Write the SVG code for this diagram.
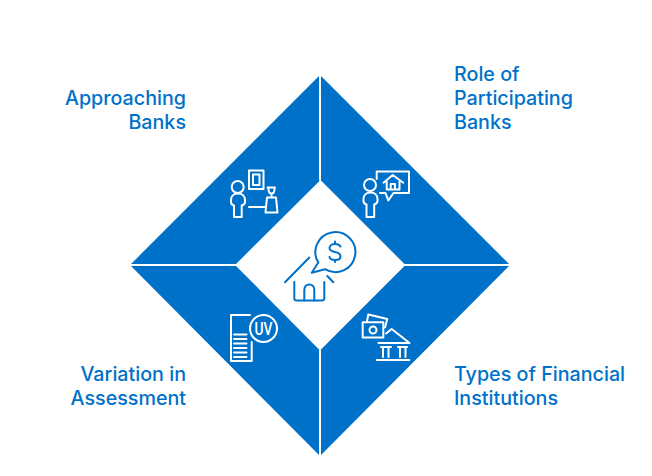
<svg xmlns="http://www.w3.org/2000/svg" width="652" height="476" viewBox="0 0 652 476">
<style>
.seg{fill:#0071c9}
.lbl{font-family:Inter,"Liberation Sans",sans-serif;font-size:19.7px;font-weight:500;fill:#0071c9}
.ic{fill:none;stroke:#fff;stroke-width:2;stroke-linejoin:round;stroke-linecap:round}
.ib{fill:none;stroke:#0071c9;stroke-width:2;stroke-linejoin:round;stroke-linecap:round}
.e{text-anchor:end}
</style>
<rect width="652" height="476" fill="#fff"/>
<g id="connectors">
<path class="seg" d="M319 76V180.500H320L236 264H131Z"/>
<path class="seg" d="M321 76L509 264H404.500L321 180.500Z"/>
<path class="seg" d="M131 266H236L319 349.500V455Z"/>
<path class="seg" d="M404.500 266H509L321 455V349.500Z"/>
</g>
<g id="center">
<path class="ib" d="M318.300 262.500A20 20 0 1 1 325 269.200L311.800 272.700Z"/>
<path class="ib" d="M340.500 246.500C339.500 244.500 337.500 244 335 244C332 244 329.500 245.500 329.500 248C329.500 250.500 332.500 251.500 335 252C338 252.500 340.500 254 340.500 256.500C340.500 259 338 260 335 260C332 260 330 259 329.500 257M335 241.500V244M335 260V262"/>
<path class="ib" d="M285 282.300L309.300 257.500M327.300 276L333.300 282.300"/>
<path class="ib" d="M294.300 282V298C294.300 299.500 295 300.500 296.500 300.500H322C323.500 300.500 324.300 299.500 324.300 298V282"/>
<path class="ib" d="M304.300 300.500V290C304.300 282.500 314.300 282.500 314.300 290V300.500"/>
</g>
<g id="approaching-banks">
<text class="lbl e" x="186" y="105">Approaching</text>
<text class="lbl e" x="186" y="129">Banks</text>
<circle class="ic" cx="237.700" cy="187" r="6"/>
<path class="ic" d="M234 217V205.500C232 205 231 204 231 202V200C231 196 234 193.500 238 193.500C242 193.500 245 196 245 200V202C245 204 243.500 205 241.700 205.500V217Z"/>
<path class="ic" d="M249 207H265"/>
<rect class="ic" x="249" y="170.500" width="14.500" height="18.500"/>
<rect class="ic" x="253" y="174.500" width="6.500" height="10.500"/>
<path class="ic" d="M265.500 212.500L267 197.500H276L277.500 212.500Z"/>
<path class="ic" d="M267.500 187.500H275M268.500 189C268.500 192 270 193.500 271.500 193.500C273 193.500 274.500 192 274.500 189M271.500 194V197"/>
</g>
<g id="role-of-participating-banks">
<text class="lbl" x="454" y="81">Role of</text>
<text class="lbl" x="454" y="105">Participating</text>
<text class="lbl" x="454" y="129">Banks</text>
<circle class="ic" cx="370" cy="185" r="6"/>
<path class="ic" d="M366.500 217V204.500C364.500 204 363.500 203 363.500 201V199C363.500 195 366.500 192.500 370.500 192.500C374.500 192.500 377.500 195 377.500 199V201C377.500 203 376 204 374.200 204.500V217Z"/>
<path class="ic" d="M376.700 179V171.500H409V193H393.500L388.300 200.500L385.500 193H380"/>
<path class="ic" d="M383.500 182.700L392.700 175L403.300 182.700M386.700 181V189.500H399.500V181M390.700 189.500V184H395V189.500"/>
</g>
<g id="variation-in-assessment">
<text class="lbl e" x="186" y="381">Variation in</text>
<text class="lbl e" x="186" y="405">Assessment</text>
<path class="ic" d="M251.700 342V361H231V315H250"/>
<circle class="ic" cx="263.500" cy="328.500" r="13.500"/>
<path class="ic" d="M234 334.500H246.500M234 339H246.500M234 343.500H246.500M234 348H246.500M234 352.500H246.500M234 357H246.500"/>
<text x="263.500" y="335" text-anchor="middle" textLength="18" lengthAdjust="spacingAndGlyphs" font-family="Roboto,'Liberation Sans',sans-serif" font-size="18" font-weight="500" fill="#fff">UV</text>
</g>
<g id="types-of-financial-institutions">
<text class="lbl" x="454" y="381">Types of Financial</text>
<text class="lbl" x="454" y="405">Institutions</text>
<path class="ic" d="M362.700 322.300H383.300V337.500H362.700Z"/>
<circle class="ic" cx="373" cy="330" r="3.500"/>
<path class="ic" d="M367 321L368.300 314.500L387.300 319L385 327.500"/>
<path class="ic" d="M378.500 343H409.500L391.700 329L386 333.500"/>
<path class="ic" d="M381 347H391M398 347H407M383 347V357M388.500 347V357M400 347V357M405.500 347V357M376.700 360H409.300"/>
</g>
</svg>
